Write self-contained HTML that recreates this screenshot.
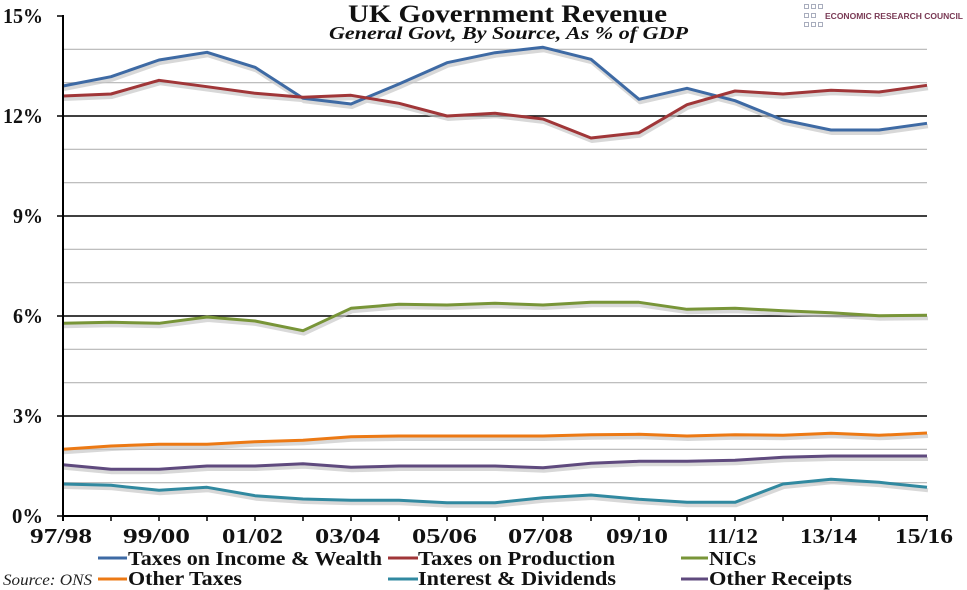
<!DOCTYPE html>
<html><head><meta charset="utf-8"><style>
html,body{margin:0;padding:0;background:#fff;}
svg{display:block;}
.s{font-family:"Liberation Serif",serif;fill:#111;}
.logo{font-family:"Liberation Sans",sans-serif;fill:#7a3a55;}
</style></head><body>
<svg width="967" height="590" viewBox="0 0 967 590" xmlns="http://www.w3.org/2000/svg">
<!-- gridlines -->
<g stroke="#b4b4b4" stroke-width="1.2">
<line x1="63" x2="927" y1="482.7" y2="482.7"/><line x1="63" x2="927" y1="449.3" y2="449.3"/>
<line x1="63" x2="927" y1="382.7" y2="382.7"/><line x1="63" x2="927" y1="349.3" y2="349.3"/>
<line x1="63" x2="927" y1="282.7" y2="282.7"/><line x1="63" x2="927" y1="249.3" y2="249.3"/>
<line x1="63" x2="927" y1="182.7" y2="182.7"/><line x1="63" x2="927" y1="149.3" y2="149.3"/>
<line x1="63" x2="927" y1="82.7" y2="82.7"/><line x1="63" x2="927" y1="49.3" y2="49.3"/>
</g>
<g stroke="#000" stroke-width="1.5">
<line x1="57" x2="927" y1="416" y2="416"/><line x1="57" x2="927" y1="316" y2="316"/>
<line x1="57" x2="927" y1="216" y2="216"/><line x1="57" x2="927" y1="116" y2="116"/>
<line x1="57" x2="63" y1="16" y2="16"/><line x1="57" x2="63" y1="516" y2="516"/>
</g>
<!-- shadows -->
<g fill="none" stroke="#c4c4c4" stroke-width="4" stroke-linejoin="round" transform="translate(1,3)" opacity="0.65">
<polyline points="63,86 111,76.7 159,60 207,52.3 255,67.3 303,98.3 351,104 399,84 447,62.7 495,52.7 543,47.3 591,59.3 639,99.3 687,88.3 735,100.7 783,120 831,130 879,130 927,123.3"/>
<polyline points="63,96 111,94 159,80.3 207,86.7 255,93.3 303,97.3 351,95.3 399,103.3 447,116 495,113.3 543,119 591,138 639,132.7 687,104.7 735,91 783,94 831,90.3 879,92 927,85.3"/>
<polyline points="63,323.3 111,322.3 159,323.3 207,317 255,321 303,330.7 351,308.3 399,304.3 447,305 495,303.3 543,305 591,302.3 639,302.3 687,309.3 735,308.3 783,310.7 831,312.7 879,315.7 927,315.3"/>
<polyline points="63,449.3 111,446 159,444.3 207,444.3 255,441.7 303,440.3 351,436.7 399,436 447,436 495,436 543,436 591,434.7 639,434.3 687,436 735,434.7 783,435.3 831,433.3 879,435.3 927,433"/>
<polyline points="63,464.7 111,469.3 159,469.3 207,466 255,466 303,463.7 351,467.3 399,466 447,466 495,466 543,467.7 591,463.3 639,461.3 687,461.3 735,460.3 783,457.3 831,456 879,456 927,456"/>
<polyline points="63,484 111,485.3 159,490.3 207,487.3 255,495.7 303,499 351,500.3 399,500.3 447,502.7 495,502.7 543,497.7 591,495 639,499.3 687,502.3 735,502.3 783,484 831,479.3 879,482.3 927,487.3"/>
</g>
<!-- series -->
<g fill="none" stroke-width="3" stroke-linejoin="round">
<polyline stroke="#3e6aa4" points="63,86 111,76.7 159,60 207,52.3 255,67.3 303,98.3 351,104 399,84 447,62.7 495,52.7 543,47.3 591,59.3 639,99.3 687,88.3 735,100.7 783,120 831,130 879,130 927,123.3"/>
<polyline stroke="#a03638" points="63,96 111,94 159,80.3 207,86.7 255,93.3 303,97.3 351,95.3 399,103.3 447,116 495,113.3 543,119 591,138 639,132.7 687,104.7 735,91 783,94 831,90.3 879,92 927,85.3"/>
<polyline stroke="#789538" points="63,323.3 111,322.3 159,323.3 207,317 255,321 303,330.7 351,308.3 399,304.3 447,305 495,303.3 543,305 591,302.3 639,302.3 687,309.3 735,308.3 783,310.7 831,312.7 879,315.7 927,315.3"/>
<polyline stroke="#ec7914" points="63,449.3 111,446 159,444.3 207,444.3 255,441.7 303,440.3 351,436.7 399,436 447,436 495,436 543,436 591,434.7 639,434.3 687,436 735,434.7 783,435.3 831,433.3 879,435.3 927,433"/>
<polyline stroke="#5f4a7e" points="63,464.7 111,469.3 159,469.3 207,466 255,466 303,463.7 351,467.3 399,466 447,466 495,466 543,467.7 591,463.3 639,461.3 687,461.3 735,460.3 783,457.3 831,456 879,456 927,456"/>
<polyline stroke="#3189a0" points="63,484 111,485.3 159,490.3 207,487.3 255,495.7 303,499 351,500.3 399,500.3 447,502.7 495,502.7 543,497.7 591,495 639,499.3 687,502.3 735,502.3 783,484 831,479.3 879,482.3 927,487.3"/>
</g>
<!-- axes -->
<g stroke="#000" stroke-width="2">
<line x1="63" x2="63" y1="15" y2="521"/>
<line x1="62" x2="928" y1="516" y2="516"/>
</g>
<g stroke="#000" stroke-width="1.5">
<line x1="111" x2="111" y1="516" y2="521"/><line x1="159" x2="159" y1="516" y2="521"/>
<line x1="207" x2="207" y1="516" y2="521"/><line x1="255" x2="255" y1="516" y2="521"/>
<line x1="303" x2="303" y1="516" y2="521"/><line x1="351" x2="351" y1="516" y2="521"/>
<line x1="399" x2="399" y1="516" y2="521"/><line x1="447" x2="447" y1="516" y2="521"/>
<line x1="495" x2="495" y1="516" y2="521"/><line x1="543" x2="543" y1="516" y2="521"/>
<line x1="591" x2="591" y1="516" y2="521"/><line x1="639" x2="639" y1="516" y2="521"/>
<line x1="687" x2="687" y1="516" y2="521"/><line x1="735" x2="735" y1="516" y2="521"/>
<line x1="783" x2="783" y1="516" y2="521"/><line x1="831" x2="831" y1="516" y2="521"/>
<line x1="879" x2="879" y1="516" y2="521"/><line x1="927" x2="927" y1="516" y2="521"/>
</g>
<!-- y labels -->
<g font-size="21" font-weight="bold" text-anchor="end">
<text class="s" x="43" y="23" textLength="40" lengthAdjust="spacingAndGlyphs">15%</text>
<text class="s" x="43" y="123" textLength="40" lengthAdjust="spacingAndGlyphs">12%</text>
<text class="s" x="43" y="223" textLength="30" lengthAdjust="spacingAndGlyphs">9%</text>
<text class="s" x="43" y="323" textLength="30" lengthAdjust="spacingAndGlyphs">6%</text>
<text class="s" x="43" y="423" textLength="30" lengthAdjust="spacingAndGlyphs">3%</text>
<text class="s" x="43" y="523" textLength="31" lengthAdjust="spacingAndGlyphs">0%</text>
</g>
<!-- x labels -->
<g font-size="21" font-weight="bold">
<text class="s" x="30" y="543" textLength="62" lengthAdjust="spacingAndGlyphs">97/98</text>
<text class="s" x="123" y="543" textLength="67" lengthAdjust="spacingAndGlyphs">99/00</text>
<text class="s" x="222" y="543" textLength="61" lengthAdjust="spacingAndGlyphs">01/02</text>
<text class="s" x="315" y="543" textLength="65" lengthAdjust="spacingAndGlyphs">03/04</text>
<text class="s" x="412" y="543" textLength="65" lengthAdjust="spacingAndGlyphs">05/06</text>
<text class="s" x="508" y="543" textLength="65" lengthAdjust="spacingAndGlyphs">07/08</text>
<text class="s" x="606" y="543" textLength="62" lengthAdjust="spacingAndGlyphs">09/10</text>
<text class="s" x="707" y="543" textLength="51" lengthAdjust="spacingAndGlyphs">11/12</text>
<text class="s" x="800" y="543" textLength="57" lengthAdjust="spacingAndGlyphs">13/14</text>
<text class="s" x="895" y="543" textLength="58" lengthAdjust="spacingAndGlyphs">15/16</text>
</g>
<!-- title -->
<text class="s" x="348" y="22" font-size="25" font-weight="bold" textLength="319" lengthAdjust="spacingAndGlyphs">UK Government Revenue</text>
<text class="s" x="329" y="39" font-size="18" font-weight="bold" font-style="italic" textLength="359" lengthAdjust="spacingAndGlyphs">General Govt, By Source, As % of GDP</text>
<!-- logo -->
<g fill="none" stroke="#a8adbd" stroke-width="1">
<rect x="804.5" y="4.5" width="4" height="4"/><rect x="811.5" y="4.5" width="4" height="4"/><rect x="818.5" y="4.5" width="4" height="4"/>
<rect x="804.5" y="13.5" width="4" height="4"/><rect x="811.5" y="13.5" width="4" height="4"/>
<rect x="804.5" y="22.5" width="4" height="4"/><rect x="811.5" y="22.5" width="4" height="4"/><rect x="818.5" y="22.5" width="4" height="4"/>
</g>
<text class="logo" x="825" y="19" font-size="8" font-weight="bold" font-family="Liberation Sans, sans-serif" textLength="138" lengthAdjust="spacingAndGlyphs">ECONOMIC RESEARCH COUNCIL</text>
<!-- legend -->
<g stroke-width="3">
<line x1="98" x2="127" y1="558" y2="558" stroke="#3e6aa4"/>
<line x1="388" x2="418" y1="558" y2="558" stroke="#a03638"/>
<line x1="681" x2="708" y1="558" y2="558" stroke="#789538"/>
<line x1="98" x2="127" y1="579" y2="579" stroke="#ec7914"/>
<line x1="388" x2="418" y1="579" y2="579" stroke="#3189a0"/>
<line x1="681" x2="708" y1="579" y2="579" stroke="#5f4a7e"/>
</g>
<g font-size="20" font-weight="bold">
<text class="s" x="128" y="565" textLength="254" lengthAdjust="spacingAndGlyphs">Taxes on Income &amp; Wealth</text>
<text class="s" x="418" y="565" textLength="197" lengthAdjust="spacingAndGlyphs">Taxes on Production</text>
<text class="s" x="709" y="565" textLength="47" lengthAdjust="spacingAndGlyphs">NICs</text>
<text class="s" x="128" y="585" textLength="114" lengthAdjust="spacingAndGlyphs">Other Taxes</text>
<text class="s" x="418" y="585" textLength="198" lengthAdjust="spacingAndGlyphs">Interest &amp; Dividends</text>
<text class="s" x="709" y="585" textLength="143" lengthAdjust="spacingAndGlyphs">Other Receipts</text>
</g>
<text class="s" x="3" y="585" font-size="16" font-style="italic" textLength="89" lengthAdjust="spacingAndGlyphs" style="fill:#222">Source: ONS</text>
</svg>
</body></html>
